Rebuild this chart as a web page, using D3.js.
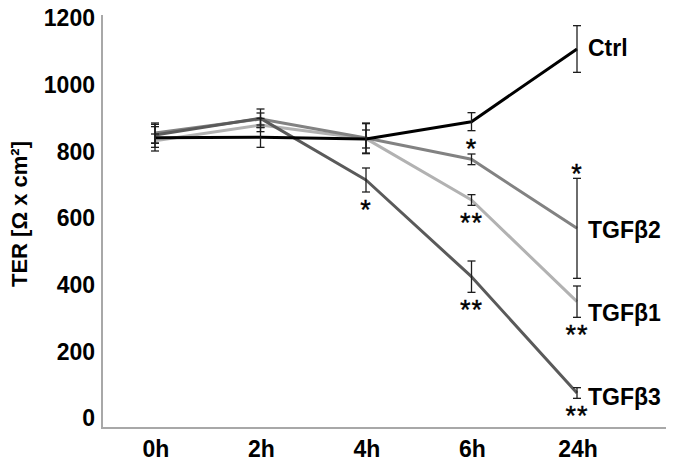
<!DOCTYPE html>
<html>
<head>
<meta charset="utf-8">
<script src="https://cdn.jsdelivr.net/npm/d3@7"></script>
<style>
  body { margin: 0; background: #fff; }
  svg { display: block; font-family: "Liberation Sans", Arial, sans-serif; }
</style>
</head>
<body>
<svg id="chart" width="677" height="464"></svg>
<script>
// time points and tick values
const timePoints = ["0h", "2h", "4h", "6h", "24h"];
const yTicks = [0, 200, 400, 600, 800, 1000, 1200];

// mean TER per series
const ctrl   = [841, 842, 837, 889, 1107];
const tgfb2  = [855, 897, 840, 776, 569];
const tgfb1  = [832, 879, 838, 654, 349];
const tgfb3  = [849, 899, 714, 424, 75];

// error (+/-) per series
const ctrlErr  = [40, 30, 27, 27, 70];
const tgfb2Err = [30, 18, 45, 16, 150];
const tgfb1Err = [20, 20, 45, 16, 47];
const tgfb3Err = [25, 28, 36, 47, 16];

// significance marks: [series, time point, mark, side]
const stars = [
  ["TGFβ3", "4h", "*", "below"],
  ["Ctrl", "6h", "*", "below"],
  ["TGFβ1", "6h", "**", "below"],
  ["TGFβ3", "6h", "**", "below"],
  ["TGFβ2", "24h", "*", "above"],
  ["TGFβ1", "24h", "**", "below"],
  ["TGFβ3", "24h", "**", "below"]
];

const series = [
  { name: "TGFβ1", values: tgfb1, err: tgfb1Err, color: "#b2b2b2", labelDy: 11 },
  { name: "TGFβ2", values: tgfb2, err: tgfb2Err, color: "#828282", labelDy: 1 },
  { name: "TGFβ3", values: tgfb3, err: tgfb3Err, color: "#5a5a5a", labelDy: 4 },
  { name: "Ctrl",  values: ctrl,  err: ctrlErr,  color: "#000000", labelDy: -1 }
];

const svg = d3.select("#chart");

const x = d3.scalePoint().domain(timePoints).range([155, 577]);
const y = d3.scaleLinear().domain([0, 1200]).range([418, 18]);

const axisLeft = 102, axisBottom = 428, axisRight = 666, axisTop = 15;

// axis lines
svg.append("line")
  .attr("x1", axisLeft).attr("x2", axisLeft)
  .attr("y1", axisTop).attr("y2", axisBottom + 1)
  .attr("stroke", "#a8a8a8").attr("stroke-width", 2);
svg.append("line")
  .attr("x1", axisLeft).attr("x2", axisRight)
  .attr("y1", axisBottom).attr("y2", axisBottom)
  .attr("stroke", "#a8a8a8").attr("stroke-width", 2);

// y tick labels
svg.append("g")
  .selectAll("text")
  .data(yTicks)
  .join("text")
  .attr("x", 95)
  .attr("y", d => y(d))
  .attr("dy", "0.36em")
  .attr("text-anchor", "end")
  .attr("font-size", 23)
  .attr("font-weight", "bold")
  .text(d => d);

// x tick labels
svg.append("g")
  .selectAll("text")
  .data(timePoints)
  .join("text")
  .attr("x", d => x(d) + 1)
  .attr("y", 457)
  .attr("text-anchor", "middle")
  .attr("font-size", 23)
  .attr("font-weight", "bold")
  .text(d => d);

// y axis title
svg.append("text")
  .attr("transform", "translate(27,214) rotate(-90)")
  .attr("text-anchor", "middle")
  .attr("font-size", 22)
  .attr("font-weight", "bold")
  .text("TER [Ω x cm²]");

// lines
const line = d3.line()
  .x((d, i) => x(timePoints[i]))
  .y(d => y(d));

svg.append("g")
  .selectAll("path")
  .data(series)
  .join("path")
  .attr("d", d => line(d.values))
  .attr("fill", "none")
  .attr("stroke", d => d.color)
  .attr("stroke-width", 3)
  .attr("stroke-linejoin", "round");

// error bars
const cap = 4;
series.forEach(s => {
  const g = svg.append("g").attr("stroke", "#1e1e1e").attr("stroke-width", 1.3);
  s.values.forEach((v, i) => {
    const cx = x(timePoints[i]);
    const top = y(v + s.err[i]), bot = y(v - s.err[i]);
    g.append("line").attr("x1", cx).attr("x2", cx).attr("y1", top).attr("y2", bot);
    g.append("line").attr("x1", cx - cap).attr("x2", cx + cap).attr("y1", top).attr("y2", top);
    g.append("line").attr("x1", cx - cap).attr("x2", cx + cap).attr("y1", bot).attr("y2", bot);
  });
});

// significance stars
const byName = Object.fromEntries(series.map(s => [s.name, s]));
svg.append("g")
  .selectAll("text")
  .data(stars)
  .join("text")
  .attr("x", d => x(d[1]))
  .attr("y", d => {
    const s = byName[d[0]];
    const i = timePoints.indexOf(d[1]);
    const c = d[3] === "below" ? y(s.values[i] - s.err[i]) + 12 : y(s.values[i] + s.err[i]) - 10;
    return c + 15;
  })
  .attr("text-anchor", "middle")
  .attr("font-size", 27)
  .attr("stroke", "#000")
  .attr("stroke-width", 0.4)
  .attr("letter-spacing", 1)
  .text(d => d[2]);

// series labels at the end of each line
svg.append("g")
  .selectAll("text")
  .data(series)
  .join("text")
  .attr("x", 588)
  .attr("y", d => y(d.values[d.values.length - 1]) + d.labelDy)
  .attr("dy", "0.36em")
  .attr("font-size", 23)
  .attr("font-weight", "bold")
  .text(d => d.name);
</script>
</body>
</html>
